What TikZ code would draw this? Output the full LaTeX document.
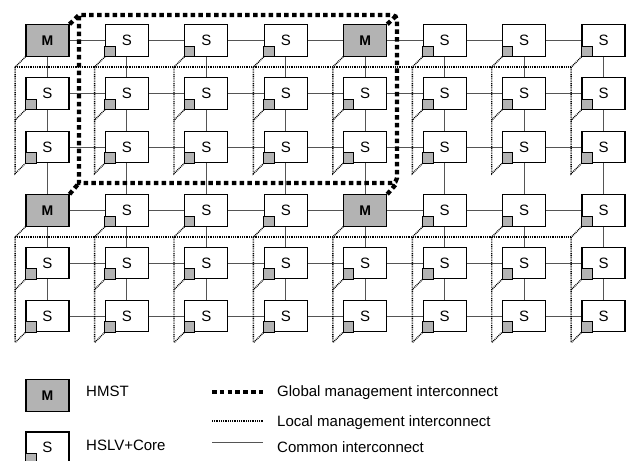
\documentclass[tikz,border=0pt]{standalone}
\usepackage{fontspec}
\setmainfont{Liberation Sans}
\usetikzlibrary{calc}
\definecolor{mgray}{RGB}{179,179,179}
\definecolor{linegray}{RGB}{85,85,85}
\begin{document}
\begin{tikzpicture}[x=1pt,y=-1pt,
  box/.style={draw=black,line width=1.1pt,minimum width=43pt,minimum height=31.5pt,inner sep=0pt,fill=white,font=\fontsize{15}{18}\selectfont},
  mbox/.style={box,fill=mgray,font=\fontsize{14}{16}\selectfont\bfseries},
  common/.style={draw=linegray,line width=0.9pt},
  localmg/.style={draw=black,line width=1.4pt,dash pattern=on 0.9pt off 0.9pt},
  globalmg/.style={draw=black,line width=4.3pt,dash pattern=on 4.5pt off 3.3pt},
  cornersq/.style={draw=black,line width=0.9pt,fill=mgray},
  lbl/.style={anchor=base west,inner sep=0pt,font=\fontsize{15}{18}\selectfont}]
\useasboundingbox (0,0) rectangle (630,461);
% boxes
\foreach \r/\y in {0/40.5,1/93.5,2/147,3/210.5,4/263,5/316}{
  \foreach \c in {0,...,7}{
    \pgfmathsetmacro\x{47.5+79.43*\c}
    \pgfmathtruncatemacro\ism{and(or(\c==0,\c==4),or(\r==0,\r==3))}
    \ifnum\ism=1
      \node[mbox] (b\c-\r) at (\x,\y) {M};
    \else
      \node[box] (b\c-\r) at (\x,\y) {S};
      \draw[cornersq] (b\c-\r.south west) rectangle ++(10.5,-10.5);
    \fi
  }
}
% common interconnect
\foreach \r in {0,...,5}{
  \foreach \c [evaluate=\c as \n using int(\c+1)] in {0,...,6}{
    \draw[common] (b\c-\r.east) -- (b\n-\r.west);
  }
}
\foreach \c in {0,...,7}{
  \foreach \r [evaluate=\r as \n using int(\r+1)] in {0,...,4}{
    \draw[common] (b\c-\r.south) -- (b\c-\n.north);
  }
}
% local management interconnect
\foreach \top/\mid/\bot/\g in {0/1/2/a,3/4/5/b}{
  \foreach \c in {0,...,7}{
    \draw[localmg] (b\c-\top.south west) -- ++(-10.3,10.3) coordinate (\g t\c)
      -- ($(b\c-\bot.south west)+(-10.3,10.3)$) -- (b\c-\bot.south west);
    \draw[localmg] (b\c-\mid.south west) -- ++(-10.3,10.3);
  }
  \draw[localmg] (\g t0) -- (\g t7);
}
% global management interconnect
\coordinate (gtl) at (79,15);
\coordinate (gtr) at (397,15);
\coordinate (gbr) at (397,183);
\coordinate (gbl) at (79,183);
\draw[globalmg] (b0-0.north east) -- (gtl) [rounded corners=5pt] -- (gtr) -- (gbr) [sharp corners] -- (gbl) -- (gtl);
\draw[globalmg] (b4-0.north east) -- (gtr);
\draw[globalmg] (b4-3.north east) -- (gbr);
\draw[globalmg] (b0-3.north east) -- (gbl);
% legend
\node[mbox] (lm) at (47.5,395.5) {M};
\node[lbl] (lt1) at (86,396) {HMST};
\node[box] (ls) at (47.5,447.75) {S};
\draw[cornersq] (ls.south west) rectangle ++(10.5,-10.5);
\node[lbl] (lt2) at (86,450) {HSLV+Core};
\coordinate (lg1) at (212,392); \coordinate (lg2) at (263,392);
\draw[globalmg] (lg1) -- (lg2);
\node[lbl] (lt3) at (277,396.7) {Global management interconnect};
\coordinate (ll1) at (212,421); \coordinate (ll2) at (263,421);
\draw[localmg] (ll1) -- (ll2);
\node[lbl] (lt4) at (277,426) {Local management interconnect};
\coordinate (lc1) at (212,442.3); \coordinate (lc2) at (263,442.3);
\draw[common] (lc1) -- (lc2);
\node[lbl] (lt5) at (277,452.7) {Common interconnect};
\end{tikzpicture}
\end{document}
